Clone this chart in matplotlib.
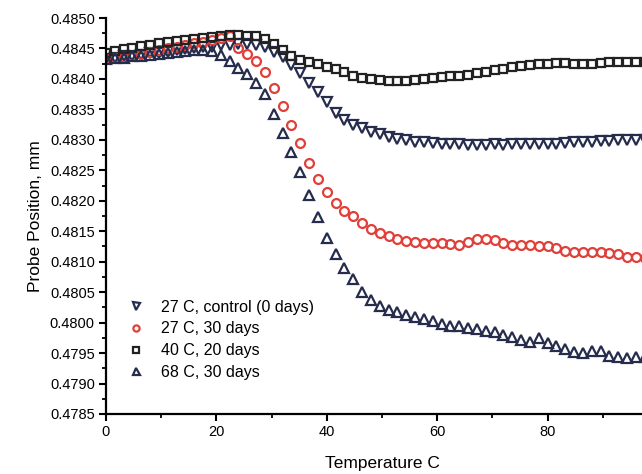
import matplotlib

matplotlib.use("Agg")
import matplotlib.pyplot as plt
from matplotlib.ticker import FixedLocator, MultipleLocator, FormatStrFormatter

plt.rcParams["font.family"] = ["Liberation Sans", "DejaVu Sans"]

# temperature readings (C), shared by all four runs
temperature = [
    0.0, 1.6, 3.2, 4.8, 6.4, 8.0, 9.6, 11.2, 12.8, 14.4,
    16.0, 17.6, 19.2, 20.8, 22.4, 24.0, 25.6, 27.2, 28.8, 30.4,
    32.0, 33.6, 35.2, 36.8, 38.4, 40.0, 41.6, 43.2, 44.8, 46.4,
    48.0, 49.6, 51.2, 52.8, 54.4, 56.0, 57.6, 59.2, 60.8, 62.4,
    64.0, 65.6, 67.2, 68.8, 70.4, 72.0, 73.6, 75.2, 76.8, 78.4,
    80.0, 81.6, 83.2, 84.8, 86.4, 88.0, 89.6, 91.2, 92.8, 94.4,
    96.0, 97.6,
]

control_27c = [
    0.48433, 0.48435, 0.48437, 0.48438, 0.48440, 0.48442, 0.48443, 0.48445, 0.48447, 0.48449,
    0.48450, 0.48452, 0.48453, 0.48455, 0.48456, 0.48458, 0.48457, 0.48455, 0.48452, 0.48445,
    0.48436, 0.48423, 0.48410, 0.48394, 0.48378, 0.48362, 0.48344, 0.48333, 0.48325, 0.48319,
    0.48313, 0.48309, 0.48305, 0.48302, 0.48299, 0.48297, 0.48296, 0.48295, 0.48294, 0.48293,
    0.48293, 0.48292, 0.48292, 0.48292, 0.48293, 0.48292, 0.48293, 0.48293, 0.48293, 0.48294,
    0.48294, 0.48294, 0.48295, 0.48296, 0.48297, 0.48297, 0.48298, 0.48298, 0.48299, 0.48299,
    0.48300, 0.48300,
]

days30_27c = [
    0.48432, 0.48434, 0.48436, 0.48438, 0.48441, 0.48444, 0.48447, 0.48450, 0.48453, 0.48456,
    0.48459, 0.48461, 0.48464, 0.48467, 0.48471, 0.48450, 0.48441, 0.48429, 0.48412, 0.48385,
    0.48356, 0.48325, 0.48295, 0.48262, 0.48236, 0.48214, 0.48196, 0.48183, 0.48175, 0.48163,
    0.48154, 0.48147, 0.48142, 0.48137, 0.48134, 0.48132, 0.48131, 0.48130, 0.48131, 0.48129,
    0.48127, 0.48133, 0.48137, 0.48138, 0.48136, 0.48131, 0.48127, 0.48127, 0.48127, 0.48126,
    0.48125, 0.48122, 0.48118, 0.48116, 0.48116, 0.48116, 0.48116, 0.48115, 0.48112, 0.48108,
    0.48107, 0.48106,
]

days20_40c = [
    0.48443, 0.48446, 0.48449, 0.48451, 0.48454, 0.48456, 0.48459, 0.48461, 0.48463, 0.48464,
    0.48466, 0.48467, 0.48469, 0.48471, 0.48472, 0.48472, 0.48471, 0.48470, 0.48465, 0.48457,
    0.48448, 0.48438, 0.48431, 0.48427, 0.48424, 0.48420, 0.48416, 0.48411, 0.48405, 0.48402,
    0.48400, 0.48398, 0.48397, 0.48397, 0.48397, 0.48398, 0.48400, 0.48401, 0.48403, 0.48404,
    0.48405, 0.48407, 0.48410, 0.48412, 0.48414, 0.48417, 0.48420, 0.48422, 0.48423, 0.48424,
    0.48425, 0.48426, 0.48426, 0.48425, 0.48425, 0.48425, 0.48426, 0.48427, 0.48428, 0.48427,
    0.48428, 0.48428,
]

days30_68c = [
    0.48432, 0.48434, 0.48435, 0.48437, 0.48438, 0.48440, 0.48441, 0.48443, 0.48444, 0.48446,
    0.48447, 0.48447, 0.48446, 0.48440, 0.48430, 0.48418, 0.48408, 0.48394, 0.48375, 0.48343,
    0.48312, 0.48280, 0.48247, 0.48210, 0.48174, 0.48139, 0.48112, 0.48089, 0.48071, 0.48051,
    0.48037, 0.48028, 0.48021, 0.48017, 0.48013, 0.48009, 0.48006, 0.48003, 0.47998, 0.47995,
    0.47994, 0.47991, 0.47989, 0.47986, 0.47984, 0.47980, 0.47976, 0.47972, 0.47968, 0.47975,
    0.47967, 0.47962, 0.47957, 0.47952, 0.47950, 0.47954, 0.47953, 0.47946, 0.47943, 0.47942,
    0.47943, 0.47944,
]

x_ticks = [0, 20, 40, 60, 80]
x_minor_ticks = [10, 30, 50, 70, 90]

series = [
    ("27 C, control (0 days)", control_27c, "v", "#262c4c", 7.2),
    ("27 C, 30 days", days30_27c, "o", "#e0403a", 6.4),
    ("40 C, 20 days", days20_40c, "s", "#222222", 6.4),
    ("68 C, 30 days", days30_68c, "^", "#262c4c", 7.2),
]

fig = plt.figure(figsize=(6.42, 4.74), dpi=100)
ax = fig.add_axes([0.165, 0.1266, 0.86, 0.8354])

for label, values, marker, color, size in series:
    ax.plot(
        temperature,
        values,
        linestyle="none",
        marker=marker,
        markersize=size,
        markerfacecolor="none",
        markeredgecolor=color,
        markeredgewidth=1.6,
        label=label,
    )

ax.set_xlim(0, 100)
ax.set_ylim(0.4785, 0.4850)
ax.xaxis.set_major_locator(FixedLocator(x_ticks))
ax.xaxis.set_minor_locator(FixedLocator(x_minor_ticks))
ax.yaxis.set_major_locator(MultipleLocator(0.0005))
ax.yaxis.set_minor_locator(MultipleLocator(0.00025))
ax.yaxis.set_major_formatter(FormatStrFormatter("%.4f"))

for side in ("top", "right"):
    ax.spines[side].set_visible(False)
for side in ("left", "bottom"):
    ax.spines[side].set_linewidth(1.6)

ax.tick_params(which="major", direction="out", length=5, width=1.5, labelsize=10.5, pad=3)
ax.tick_params(which="minor", direction="out", length=3, width=1.3)

ax.set_xlabel("Temperature C", fontsize=12.5, labelpad=12)
ax.set_ylabel("Probe Position, mm", fontsize=12.5, labelpad=5)

legend = ax.legend(
    loc="lower left",
    bbox_to_anchor=(0.028, 0.07),
    frameon=False,
    fontsize=11.5,
    markerscale=0.7,
    handlelength=1.0,
    handletextpad=1.1,
    labelspacing=0.42,
    borderaxespad=0.0,
)

fig.savefig("out.png", dpi=100)
plt.close(fig)
